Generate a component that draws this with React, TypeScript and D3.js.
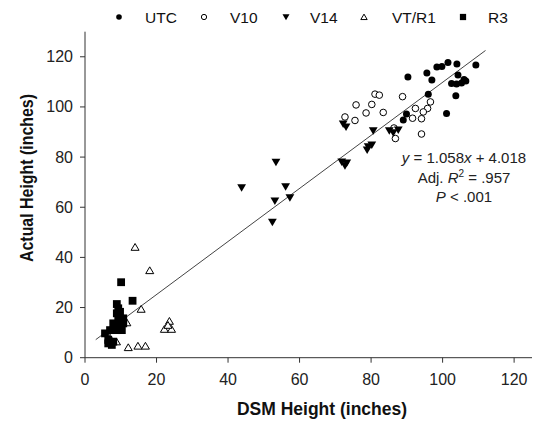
import React from "react";
import * as d3 from "d3";

const utcX = [90.3, 95.6, 97.0, 98.4, 99.8, 101.5, 104.0, 109.3, 104.3, 106.0, 102.5, 103.9, 105.3, 106.5, 103.7, 96.0, 101.1, 89.9, 89.0];
const utcY = [111.9, 113.5, 110.7, 115.9, 116.1, 117.7, 117.1, 116.7, 112.7, 110.9, 109.3, 109.1, 109.5, 110.3, 104.5, 105.1, 97.4, 97.2, 94.8];

const v10X = [81.1, 82.3, 88.8, 75.8, 80.2, 78.6, 83.4, 72.7, 75.5, 96.6, 95.8, 94.6, 92.4, 91.6, 94.1, 94.1, 86.4, 86.8];
const v10Y = [105.1, 104.7, 104.1, 100.8, 101.0, 97.6, 97.8, 96.0, 94.6, 102.0, 99.4, 98.0, 99.4, 95.5, 95.3, 89.2, 91.6, 87.4];

const v14X = [43.8, 53.4, 56.1, 53.1, 57.3, 52.4, 72.2, 73.0, 80.6, 85.1, 86.2, 87.6, 79.2, 80.2, 78.9, 71.8, 73.2, 72.7];
const v14Y = [67.8, 77.9, 68.2, 62.5, 63.8, 54.0, 93.2, 92.0, 90.5, 90.5, 89.7, 90.8, 84.1, 84.8, 82.8, 78.0, 77.6, 76.5];

const vtX = [14.0, 18.1, 15.7, 11.7, 23.6, 22.2, 24.2, 23.2, 8.8, 12.1, 14.8, 16.9, 7.0];
const vtY = [44.1, 34.8, 19.4, 14.0, 14.6, 11.4, 11.4, 13.0, 6.4, 4.1, 4.7, 4.7, 7.9];

const r3X = [10.1, 13.3, 8.9, 9.3, 8.9, 9.8, 9.3, 10.7, 7.9, 9.3, 10.7, 7.0, 8.9, 10.3, 5.6, 6.5, 7.9, 6.5, 7.5];
const r3Y = [30.1, 22.7, 21.4, 19.7, 17.7, 18.3, 15.7, 15.7, 13.7, 13.0, 13.7, 11.0, 11.0, 11.0, 9.7, 7.1, 6.4, 5.7, 5.1];

const xTicks = [0, 20, 40, 60, 80, 100, 120];
const yTicks = [0, 20, 40, 60, 80, 100, 120];
const slope = 1.058;
const intercept = 4.018;
const lineXRange = [3, 112];

const FONT = "'Liberation Sans', Arial, sans-serif";

type Kind = "fcircle" | "ocircle" | "tdown" | "tup" | "square";

function Marker({ kind, x, y, s = 1 }: { kind: Kind; x: number; y: number; s?: number }) {
  if (kind === "fcircle") return <circle cx={x} cy={y} r={3.5 * s} fill="#000" />;
  if (kind === "ocircle") return <circle cx={x} cy={y} r={3.3 * s} fill="#fff" stroke="#000" strokeWidth={1} />;
  if (kind === "square") {
    const h = 3.9 * s;
    return <rect x={x - h} y={y - h} width={2 * h} height={2 * h} fill="#000" />;
  }
  if (kind === "tdown") {
    const w = 4.4 * s;
    return <path d={`M${x - w},${y - w * 0.8}L${x + w},${y - w * 0.8}L${x},${y + w * 0.9}Z`} fill="#000" />;
  }
  const w = 4.0 * s;
  return <path d={`M${x - w},${y + w * 0.8}L${x + w},${y + w * 0.8}L${x},${y - w * 0.9}Z`} fill="#fff" stroke="#000" strokeWidth={1} />;
}

export default function App() {
  const x = d3.scaleLinear().domain([0, 125]).range([85, 532]);
  const y = d3.scaleLinear().domain([0, 130]).range([357.7, 31.7]);

  const series: { kind: Kind; xs: number[]; ys: number[] }[] = [
    { kind: "ocircle", xs: v10X, ys: v10Y },
    { kind: "tup", xs: vtX, ys: vtY },
    { kind: "square", xs: r3X, ys: r3Y },
    { kind: "tdown", xs: v14X, ys: v14Y },
    { kind: "fcircle", xs: utcX, ys: utcY },
  ];

  const legend: { kind: Kind; label: string; sx: number; tx: number }[] = [
    { kind: "fcircle", label: "UTC", sx: 119, tx: 145 },
    { kind: "ocircle", label: "V10", sx: 204, tx: 230 },
    { kind: "tdown", label: "V14", sx: 286, tx: 310 },
    { kind: "tup", label: "VT/R1", sx: 364, tx: 392 },
    { kind: "square", label: "R3", sx: 463, tx: 488 },
  ];

  const line = d3
    .line<number>()
    .x((d) => x(d))
    .y((d) => y(slope * d + intercept));

  return (
    <svg width={544} height={421} style={{ position: "absolute", left: 0, top: 0, background: "#fff" }} fontFamily={FONT}>
      <rect width={544} height={421} fill="#fff" />
      {legend.map((l) => (
        <g key={l.label}>
          <Marker kind={l.kind} x={l.sx} y={17} s={0.8} />
          <text x={l.tx} y={22.5} fontSize={15.5} fill="#111">{l.label}</text>
        </g>
      ))}
      <line x1={85} x2={85} y1={y(130)} y2={y(0)} stroke="#333" strokeWidth={1} />
      <line x1={85} x2={x(125)} y1={y(0)} y2={y(0)} stroke="#333" strokeWidth={1} />
      {yTicks.map((t) => (
        <g key={"y" + t}>
          <line x1={80} x2={85} y1={y(t)} y2={y(t)} stroke="#333" />
          <text x={73} y={y(t) + 5.5} fontSize={16} textAnchor="end" fill="#222">{t}</text>
        </g>
      ))}
      {xTicks.map((t) => (
        <g key={"x" + t}>
          <line x1={x(t)} x2={x(t)} y1={y(0)} y2={y(0) + 5} stroke="#333" />
          <text x={x(t)} y={384.5} fontSize={16} textAnchor="middle" fill="#222">{t}</text>
        </g>
      ))}
      <text x={322} y={415} fontSize={17.5} fontWeight="bold" textAnchor="middle" fill="#111">DSM Height (inches)</text>
      <text transform="translate(33,178) rotate(-90)" fontSize={17.5} fontWeight="bold" textAnchor="middle" fill="#111" textLength={168} lengthAdjust="spacingAndGlyphs">Actual Height (inches)</text>
      <path d={line(lineXRange) || ""} fill="none" stroke="#444" strokeWidth={1} />
      {series.map((s) =>
        s.xs.map((v, i) => <Marker key={s.kind + i} kind={s.kind} x={x(v)} y={y(s.ys[i])} />)
      )}
      <text x={464} y={163} fontSize={15} textAnchor="middle" fill="#222">
        <tspan fontStyle="italic">y</tspan> = 1.058<tspan fontStyle="italic">x</tspan> + 4.018
      </text>
      <text x={464} y={183} fontSize={15} textAnchor="middle" fill="#222">
        Adj. <tspan fontStyle="italic">R</tspan><tspan fontSize={10} dy={-6}>2</tspan><tspan dy={6}> = .957</tspan>
      </text>
      <text x={464} y={202} fontSize={15} textAnchor="middle" fill="#222">
        <tspan fontStyle="italic">P</tspan> &lt; .001
      </text>
    </svg>
  );
}
